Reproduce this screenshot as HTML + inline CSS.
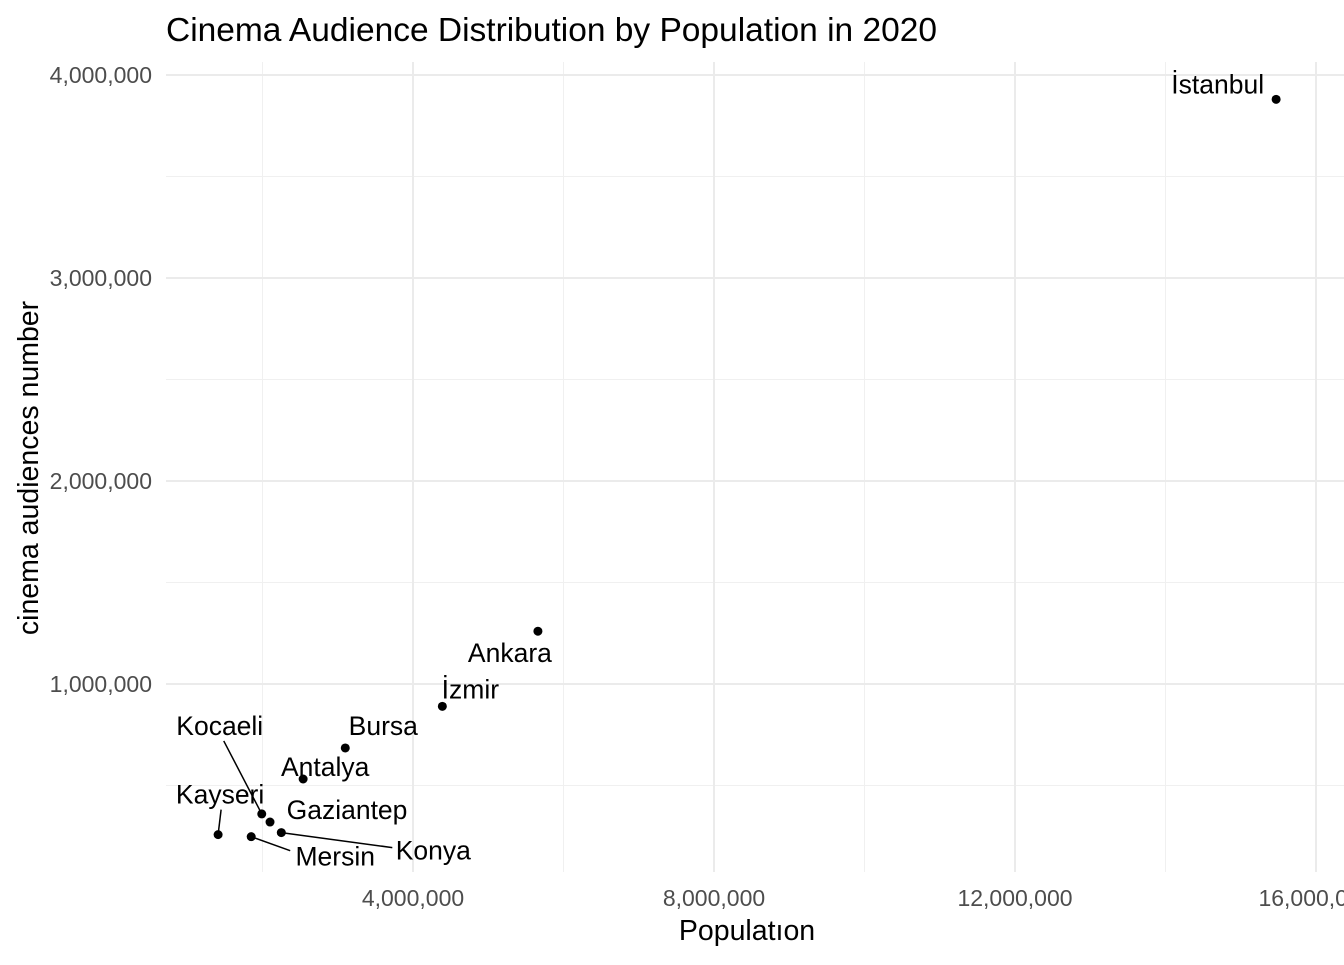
<!DOCTYPE html>
<html><head><meta charset="utf-8"><style>
body{margin:0;background:#fff;width:1344px;height:960px;overflow:hidden}
svg text{font-family:"Liberation Sans",Arial,sans-serif}
</style></head><body>
<svg id="chart" width="1344" height="960" xmlns="http://www.w3.org/2000/svg">
<text x="166" y="41" font-size="33.5" fill="#000">Cinema Audience Distribution by Population in 2020</text>
<g id="grid"></g><g id="axes"></g><g id="marks"></g>
<text x="747" y="940" font-size="28.5" text-anchor="middle" fill="#000">Populatıon</text>
<text transform="translate(38,468) rotate(-90)" font-size="28.5" text-anchor="middle" fill="#000">cinema audiences number</text>
</svg>
<script>
const cities=["İstanbul","Ankara","İzmir","Bursa","Antalya","Kocaeli","Gaziantep","Konya","Mersin","Kayseri"];
const population=[15470000,5660000,4390000,3100000,2540000,1990000,2100000,2250000,1850000,1410000];
const audience=[3880000,1260000,890000,685000,532000,360000,320000,268000,248000,258000];
const xTicks=[4000000,8000000,12000000,16000000];
const xTickLabels=["4,000,000","8,000,000","12,000,000","16,000,000"];
const yTicks=[1000000,2000000,3000000,4000000];
const yTickLabels=["1,000,000","2,000,000","3,000,000","4,000,000"];
const xMinor=[2000000,6000000,10000000,14000000];
const yMinor=[500000,1500000,2500000,3500000];
const lab=[[-12,-6,"end",null],[-28,31,"middle",null],[28,-8,"middle",null],[38,-13,"middle",null],[22,-3,"middle",null],[-42,-79,"middle",[-38,-73]],[77,-3,"middle",null],[152,27,"middle",[111,15]],[84,29,"middle",[39,14]],[2,-31,"middle",[3,-25]]];
const X=v=>413+(v-4e6)*301/4e6, Y=v=>684-(v-1e6)*203/1e6;
const ns="http://www.w3.org/2000/svg";
function mk(t,a,p){const e=document.createElementNS(ns,t);for(const k in a)e.setAttribute(k,a[k]);p.appendChild(e);return e;}
const g=document.getElementById('grid'),ax=document.getElementById('axes'),m=document.getElementById('marks');
const L=166,R=1344,T=62,B=872;
xMinor.forEach(v=>{const e=mk('line',{x1:X(v),x2:X(v),y1:T,y2:B,stroke:'#f0f0f0','stroke-width':1},g);});
yMinor.forEach(v=>{const e=mk('line',{x1:L,x2:R,y1:Y(v),y2:Y(v),stroke:'#f0f0f0','stroke-width':1},g);});
xTicks.forEach((v,i)=>{const e=mk('line',{x1:X(v),x2:X(v),y1:T,y2:B,stroke:'#ebebeb','stroke-width':2},g);
const t=mk('text',{x:X(v),y:906,'font-size':23,fill:'#4d4d4d','text-anchor':'middle'},ax);t.textContent=xTickLabels[i];});
yTicks.forEach((v,i)=>{const e=mk('line',{x1:L,x2:R,y1:Y(v),y2:Y(v),stroke:'#ebebeb','stroke-width':2},g);
const t=mk('text',{x:152,y:Y(v)+8,'font-size':23,fill:'#4d4d4d','text-anchor':'end'},ax);t.textContent=yTickLabels[i];});
cities.forEach((c,i)=>{const px=X(population[i]),py=Y(audience[i]);const o=lab[i];
if(o[3]){const s=mk('line',{x1:px+o[3][0],y1:py+o[3][1],x2:px,y2:py,stroke:'#000','stroke-width':1.5},m);}
const d=mk('circle',{cx:px,cy:py,r:4.5,fill:'#000'},m);
const t=mk('text',{x:px+o[0],y:py+o[1],'font-size':26.5,fill:'#000','text-anchor':o[2]},m);t.textContent=c;});
</script>
</body></html>
